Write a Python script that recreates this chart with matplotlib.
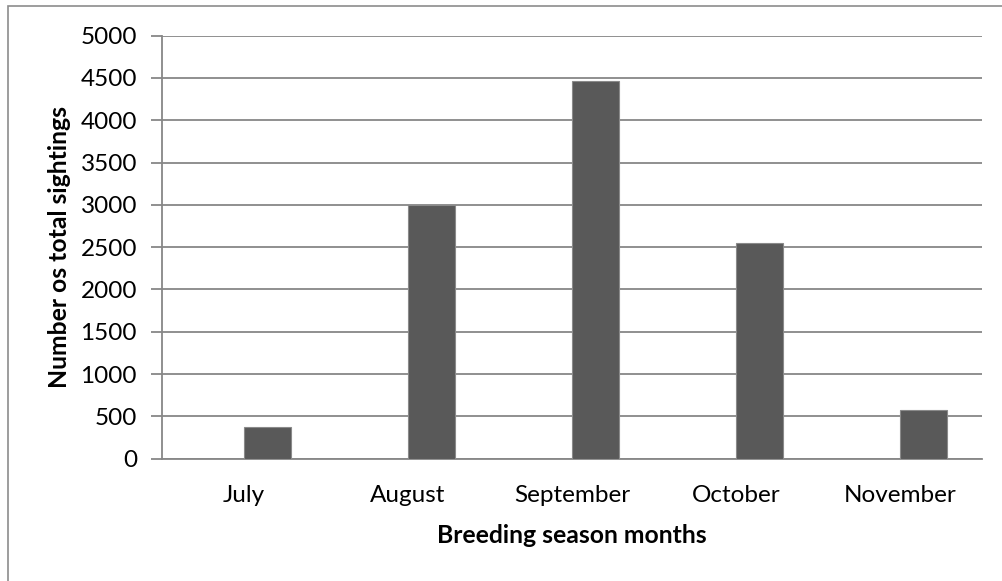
import numpy as np
import matplotlib.pyplot as plt
from matplotlib.patches import Rectangle

# Sightings per month over the breeding season
months = ["July", "August", "September", "October", "November"]
sightings = [370, 2995, 4460, 2555, 570]
y_ticks = np.arange(0, 5001, 500)

plt.rcParams['font.family'] = ['Lato', 'DejaVu Sans']

fig = plt.figure(figsize=(10.03, 5.81), dpi=100)
ax = fig.add_axes([0.1615, 0.2105, 0.8173, 0.7281])

# chart frame (only left and top edges fall inside the image)
fig.patches.append(Rectangle((8 / 1003, -0.1), 1.2, 1 - 6 / 581 + 0.1,
                             transform=fig.transFigure, fill=False,
                             edgecolor='#8c8c8c', linewidth=1.2))

grid_color = '#878787'
x = np.arange(len(months))
bar_w = 1 / 3.5
# second (empty) series slot sits left of centre, so bars start at the tick
ax.bar(x, sightings, width=bar_w, align='edge', color='#595959',
       edgecolor='#8a8a8a', linewidth=0.8, zorder=3)

ax.set_xlim(-0.5, len(months) - 0.5)
ax.set_ylim(0, 5000)
ax.set_yticks(y_ticks)
ax.set_xticks(x)
ax.set_xticklabels(months)
ax.yaxis.grid(True, color=grid_color, linewidth=1.3)
ax.set_axisbelow(True)

for side in ['top', 'right']:
    ax.spines[side].set_visible(False)
for side in ['left', 'bottom']:
    ax.spines[side].set_color(grid_color)
    ax.spines[side].set_linewidth(1.3)

ax.tick_params(axis='y', length=8, width=1.3, color=grid_color, labelsize=17.5, pad=10)
ax.tick_params(axis='x', length=0, labelsize=17.5, pad=19)

ax.set_xlabel("Breeding season months", fontsize=17.8, fontweight='bold', labelpad=13)
ax.set_ylabel("Number os total sightings", fontsize=17.8, fontweight='bold', labelpad=7)

fig.savefig("out.png", dpi=100)
